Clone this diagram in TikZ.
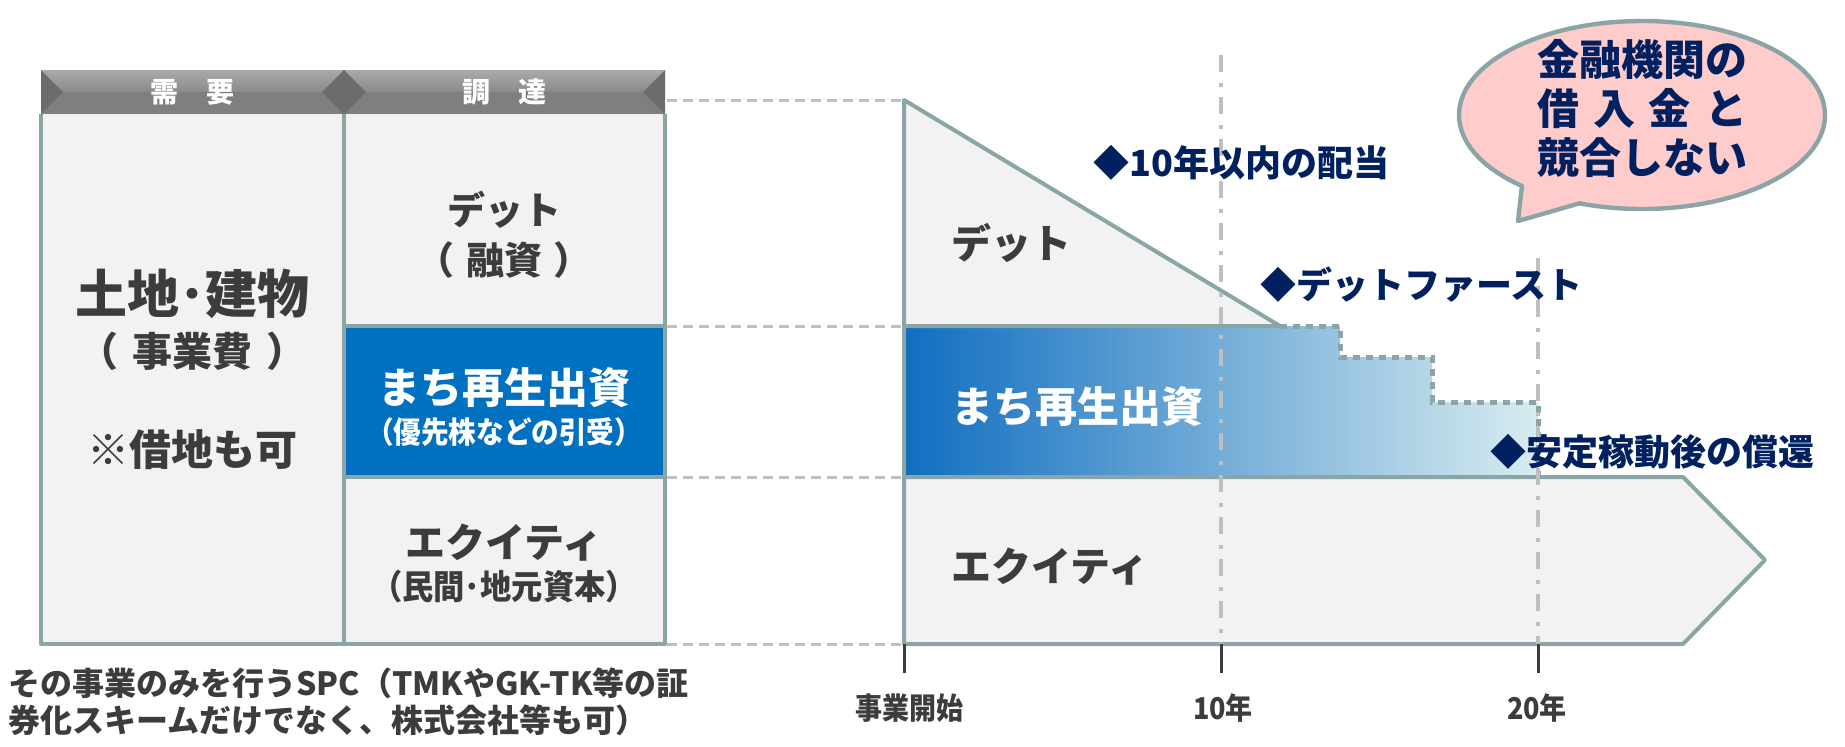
\documentclass[tikz,border=0pt]{standalone}
\usepackage{fontspec}
\setmainfont{Noto Sans CJK JP}
\usepackage{graphicx}
\usetikzlibrary{positioning}
\definecolor{linegray}{RGB}{139,165,167}
\definecolor{boxgray}{RGB}{242,242,242}
\definecolor{guidegray}{RGB}{191,191,191}
\definecolor{darktxt}{RGB}{60,60,60}
\definecolor{navy}{RGB}{0,32,96}
\definecolor{machiblue}{RGB}{0,112,192}
\definecolor{bandleft}{RGB}{16,110,192}
\definecolor{bandmid}{RGB}{140,178,214}
\definecolor{bandright}{RGB}{216,236,240}
\definecolor{bubblepink}{RGB}{255,204,204}
\definecolor{hdtop}{RGB}{170,170,170}
\definecolor{hdmid}{RGB}{138,138,138}
\definecolor{hdbot}{RGB}{127,127,127}
\definecolor{hddark}{RGB}{108,108,108}
\newcommand{\fsz}[1]{\fontsize{#1}{#1}\selectfont\bfseries}

\begin{document}
\begin{tikzpicture}[x=0.5pt,y=-0.5pt,
  frame/.style={draw=linegray,line width=2pt,line join=round},
  guide/.style={draw=guidegray,line width=1.5pt,dash pattern=on 5pt off 3pt},
  yearline/.style={draw=guidegray,line width=1.6pt,dash pattern=on 8.5pt off 5.5pt on 2pt off 5pt},
  stepline/.style={draw=linegray,line width=2.5pt,dash pattern=on 3.5pt off 3pt},
  tick/.style={draw=darktxt,line width=1.5pt},
  txt/.style={text=darktxt,inner sep=0pt},
  wtxt/.style={text=white,inner sep=0pt},
  note/.style={text=navy,inner sep=0pt,anchor=west}]
\useasboundingbox (0,0) rectangle (1845,746);

%le tableau
\fill[boxgray] (41,114) rectangle (665,644);
\fill[machiblue] (344,326) rectangle (665,477);
\draw[frame] (41,114) -- (41,644) -- (665,644) -- (665,114);
\draw[frame] (344,114) -- (344,644);
\draw[frame] (344,326) -- (665,326);
\draw[frame] (344,477) -- (665,477);

%les entetes
\shade[top color=hdtop,bottom color=hdmid] (41,70) rectangle (344,92);
\fill[hdbot] (41,92) rectangle (344,114);
\fill[hddark] (41,70) -- (63,92) -- (41,114) -- cycle;
\fill[hddark] (344,70) -- (322,92) -- (344,114) -- cycle;
\shade[top color=hdtop,bottom color=hdmid] (344,70) rectangle (665,92);
\fill[hdbot] (344,92) rectangle (665,114);
\fill[hddark] (344,70) -- (366,92) -- (344,114) -- cycle;
\fill[hddark] (665,70) -- (643,92) -- (665,114) -- cycle;
\draw[hddark,line width=0.6pt] (344,70) -- (344,114);

\node[wtxt,font=\fsz{14}] (hdDemand) at (192,92) {需　要};
\node[wtxt,font=\fsz{14}] (hdSupply) at (504,92) {調　達};

\node[txt,font=\fsz{26}] (land) at (192,294) {土地･建物};
\node[txt,font=\fsz{20}] (landCost) at (192,351) {（\hspace{0.35em}事業費\hspace{0.35em}）};
\node[txt,font=\fsz{21}] (leaseNote) at (192,450) {※借地も可};

\node[txt,font=\fsz{19}] (debtA) at (504,210) {デット};
\node[txt,font=\fsz{19}] (debtB) at (504,260) {（\hspace{0.3em}融資\hspace{0.3em}）};
\node[wtxt,font=\fsz{21}] (machiA) at (504,388) {まち再生出資};
\node[wtxt,font=\fsz{15}] (machiB) at (504,432) {\scalebox{0.92}[1]{（優先株などの引受）}};
\node[txt,font=\fsz{20}] (equityA) at (504,543) {エクイティ};
\node[txt,font=\fsz{17}] (equityB) at (504,587) {\scalebox{0.92}[1]{（民間･地元資本）}};

\node[txt,font=\fsz{16},anchor=west] (spcA) at (8,683) {その事業のみを行うSPC（TMKやGK-TK等の証};
\node[txt,font=\fsz{16},anchor=west] (spcB) at (8,720) {券化スキームだけでなく、株式会社等も可）};

%le graphique
\shade[left color=bandleft,middle color=bandmid,right color=bandright] (904,326) -- (1340,326) -- (1340,357) -- (1432,357) -- (1432,402) -- (1538,402) -- (1538,477) -- (904,477) -- cycle;
\filldraw[fill=boxgray,frame] (904,100) -- (1280,326) -- (904,326) -- cycle;
\filldraw[fill=boxgray,frame] (904,477) -- (1683,477) -- (1765,560) -- (1683,644) -- (904,644) -- cycle;
\draw[frame] (904,326) -- (904,477);
\draw[stepline] (1280,326) -- (1340,326) -- (1340,357) -- (1432,357) -- (1432,402) -- (1538,402) -- (1538,477);

\draw[yearline] (1221,55) -- (1221,644);
\draw[yearline] (1538,258) -- (1538,644);

%les pointilles entre tableau et graphique
\coordinate (tblA) at (667,100); \coordinate (grA) at (902,100);
\coordinate (tblB) at (667,326); \coordinate (grB) at (902,326);
\coordinate (tblC) at (667,477); \coordinate (grC) at (902,477);
\coordinate (tblD) at (667,644); \coordinate (grD) at (902,644);
\draw[guide] (tblA) -- (grA);
\draw[guide] (tblB) -- (grB);
\draw[guide] (tblC) -- (grC);
\draw[guide] (tblD) -- (grD);

%l'axe
\draw[tick] (904,644) -- (904,673);
\draw[tick] (1221,644) -- (1221,673);
\draw[tick] (1538,644) -- (1538,673);
\node[txt,font=\fsz{15}] (tStart) at (909,708) {\scalebox{0.9}[1]{事業開始}};
\node[txt,font=\fsz{15}] (tTen) at (1223,708) {\scalebox{0.9}[1]{10年}};
\node[txt,font=\fsz{15}] (tTwenty) at (1537,708) {\scalebox{0.9}[1]{20年}};

\node[txt,font=\fsz{20},anchor=west] (gDebt) at (951,243) {デット};
\node[wtxt,font=\fsz{21},anchor=west] (gMachi) at (951,407) {まち再生出資};
\node[txt,font=\fsz{20},anchor=west] (gEquity) at (951,567) {エクイティ};

\node[note,font=\fsz{18}] (noteDiv) at (1093,163) {◆10年以内の配当};
\node[note,font=\fsz{18}] (noteFirst) at (1260,285) {◆デットファースト};
\node[note,font=\fsz{18}] (noteRepay) at (1490,452) {◆安定稼動後の償還};

%la bulle
\filldraw[fill=bubblepink,draw=linegray,line width=2.2pt,line join=round] (1642,115) ++(131:183 and 94) arc[start angle=131,end angle=470,x radius=183,y radius=94] -- (1518,221) -- cycle;
\node[text=navy,inner sep=0pt,align=center,font=\fontsize{21}{24.5}\selectfont\bfseries] (bubbleTxt) at (1642,108) {金融機関の\\\makebox[5em][s]{借\hfill 入\hfill 金\hfill と}\\競合しない};

\end{tikzpicture}
\end{document}
